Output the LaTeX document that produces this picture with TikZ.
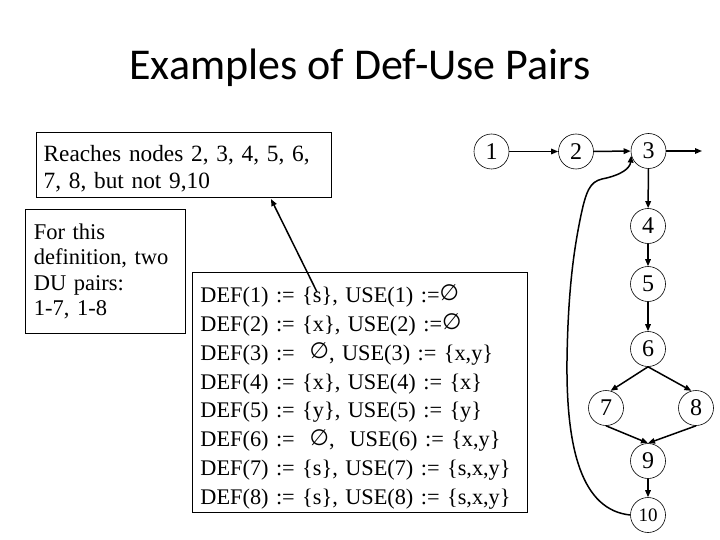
\documentclass[tikz,border=0pt]{standalone}
\usepackage{fontspec}
\setmainfont{Liberation Serif}
\newfontfamily\titlefont{Carlito}
\newfontfamily\symfont{DejaVu Sans}
\newcommand{\noset}{{\symfont\raisebox{1.5pt}{∅}}}
\usetikzlibrary{arrows.meta, positioning}

\begin{document}
\begin{tikzpicture}[x=1pt, y=-1pt,
            vertex/.style={draw, circle, line width=0.6pt, minimum size=35pt, inner sep=0pt, font=\fontsize{24}{28}\selectfont},
            textbox/.style={draw, line width=0.9pt, anchor=north west, align=left, inner xsep=8pt, inner ysep=0pt},
            flow/.style={-{Triangle[length=7pt, width=5.5pt]}, line width=1.5pt},
            title/.style={font=\titlefont\fontsize{44}{52}\selectfont, anchor=base}
        ]
        \useasboundingbox (0,0) rectangle (720,540);

        % Title
        \node[title] (head) at (360, 80) {Examples of Def-Use Pairs};

        % Text boxes
        \node[textbox, minimum width=295pt, minimum height=65pt, text width=280pt, inner xsep=7pt,
              font=\fontsize{23.3}{27}\selectfont] (reach) at (35.7, 132)
              {\rule{0pt}{23pt}Reaches nodes 2, 3, 4, 5, 6,\\7, 8, but not 9,10};
        \node[textbox, minimum width=160pt, minimum height=124pt, text width=143pt, inner xsep=8.5pt,
              font=\fontsize{22.5}{25.5}\selectfont] (pairs) at (25, 209)
              {For this\\definition, two\\DU pairs:\\1-7, 1-8};
        \node[textbox, minimum width=335pt, minimum height=240pt, text width=319pt,
              font=\fontsize{22.3}{28.9}\selectfont] (defuse) at (192, 272)
              {\rule{0pt}{27pt}DEF(1) := \{s\}, USE(1) :=\noset\\
               DEF(2) := \{x\}, USE(2) :=\noset\\
               DEF(3) := \ \noset, USE(3) := \{x,y\}\\
               DEF(4) := \{x\}, USE(4) := \{x\}\\
               DEF(5) := \{y\}, USE(5) := \{y\}\\
               DEF(6) := \ \noset, \ USE(6) := \{x,y\}\\
               DEF(7) := \{s\}, USE(7) := \{s,x,y\}\\
               DEF(8) := \{s\}, USE(8) := \{s,x,y\}};

        % Control flow graph
        \node[vertex] (n1) at (491.5, 151.5) {1};
        \node[vertex] (n2) at (576, 151.5) {2};
        \node[vertex] (n3) at (648.5, 151) {3};
        \node[vertex] (n4) at (648, 226) {4};
        \node[vertex] (n5) at (648, 284) {5};
        \node[vertex] (n6) at (648, 349) {6};
        \node[vertex] (n7) at (606, 408) {7};
        \node[vertex] (n8) at (696, 408) {8};
        \node[vertex] (n9) at (648, 461) {9};
        \node[vertex, font=\fontsize{19}{22}\selectfont] (n10) at (648, 515) {10};
        \coordinate (out) at (702, 151);

        \draw[flow] (n1) -- (n2);
        \draw[flow] (n2) -- (n3);
        \draw[flow] (n3) -- (out);
        \draw[flow] (n3) -- (n4);
        \draw[flow] (n4) -- (n5);
        \draw[flow] (n5) -- (n6);
        \draw[flow] (n6.south) -- (n7.75);
        \draw[flow] (n6.south) -- (n8.105);
        \draw[flow] (n7.south) -- (n9.north);
        \draw[flow] (n8.south) -- (n9.north);
        \draw[flow] (n9) -- (n10);

        % Back edge from 10 to 3
        \draw[flow] (n10.west) .. controls (582, 510) and (566, 450) .. (567, 360)
            .. controls (568, 290) and (574, 250) .. (580, 220)
            .. controls (586, 190) and (590, 182) .. (602, 179)
            .. controls (622, 175) and (630, 168) .. (n3.195);

        % Pointer from DEF(1) to the note
        \coordinate (sdef) at (317, 292);
        \coordinate (rtip) at (271, 199);
        \draw[flow] (sdef) -- (rtip);

        \end{tikzpicture}
\end{document}
